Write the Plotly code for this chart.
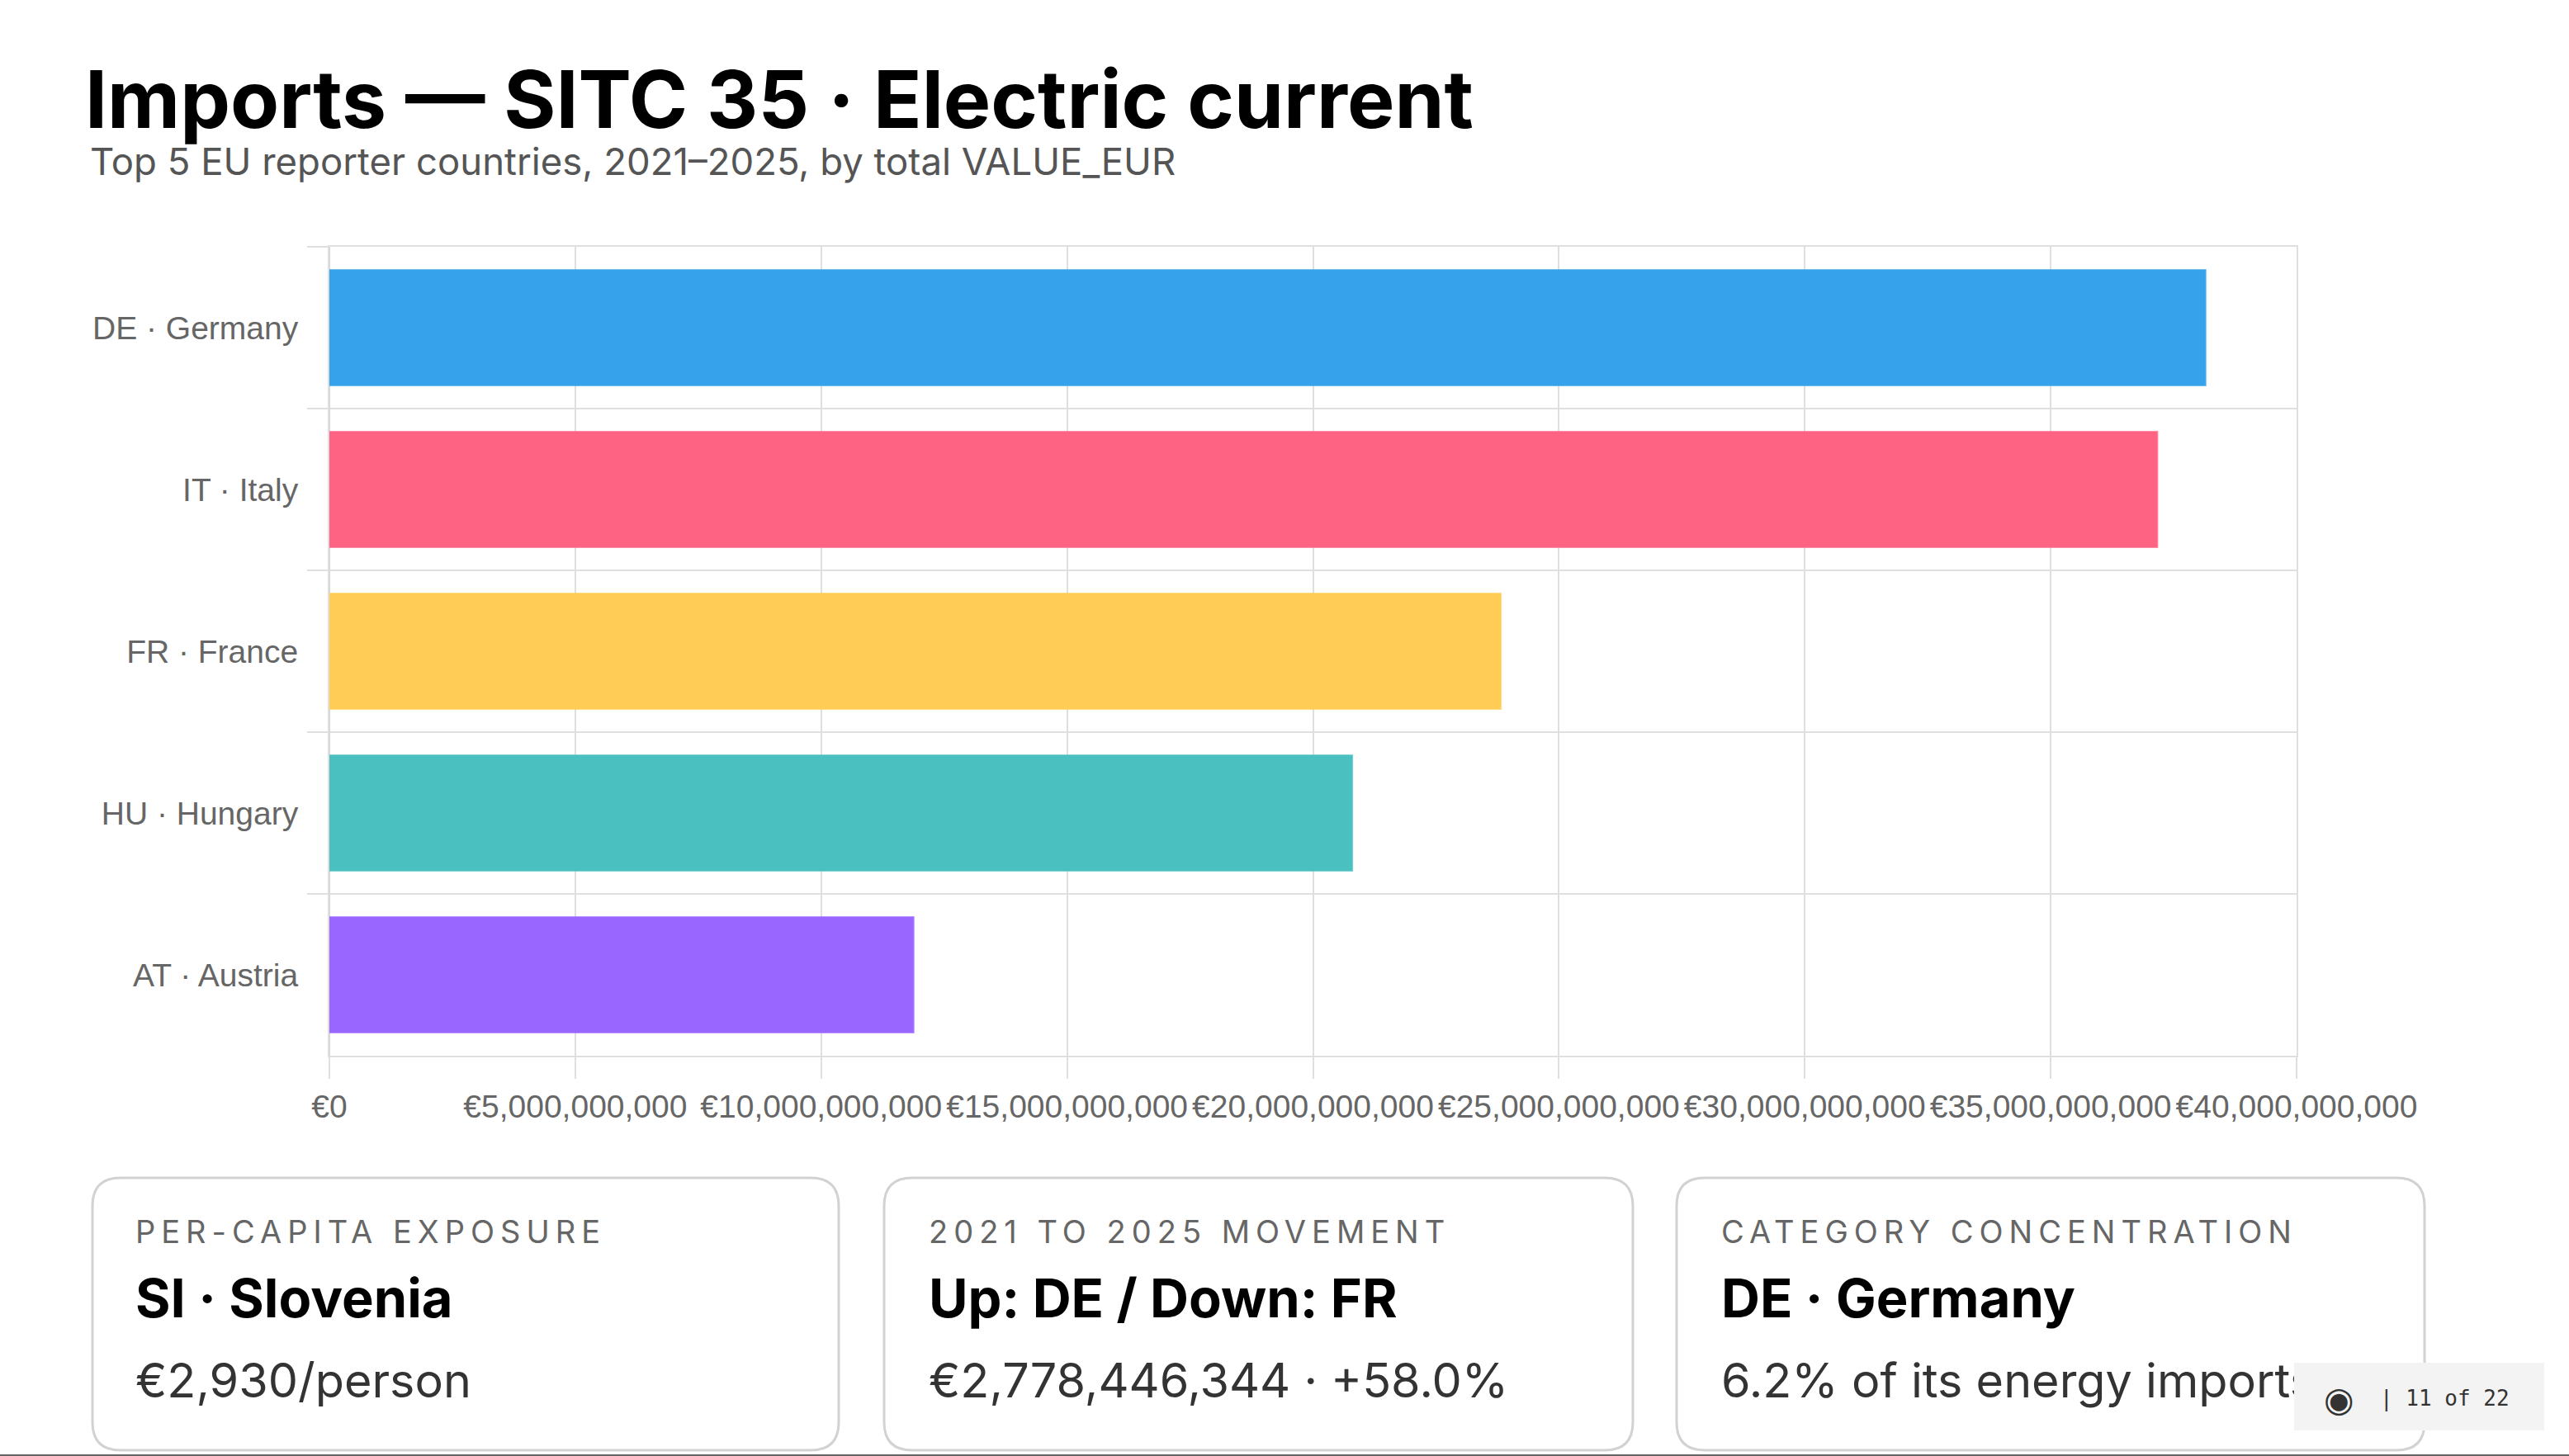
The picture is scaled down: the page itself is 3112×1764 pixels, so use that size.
import plotly.graph_objects as go

countries = ["DE · Germany", "IT · Italy", "FR · France", "HU · Hungary", "AT · Austria"]
values_eur = [38.15e9, 37.17e9, 23.82e9, 20.8e9, 11.88e9]
bar_colors = ["#36A2EB", "#FF6384", "#FFCD56", "#4BC0C0", "#9966FF"]
bar_edges = ["rgba(54,162,235,0.7)", "rgba(255,99,132,0.7)", "rgba(255,205,86,0.7)", "rgba(75,192,192,0.7)", "rgba(153,102,255,0.7)"]
x_ticks = [0, 5e9, 10e9, 15e9, 20e9, 25e9, 30e9, 35e9, 40e9]
x_tick_labels = ["€0", "€5,000,000,000", "€10,000,000,000", "€15,000,000,000", "€20,000,000,000",
                 "€25,000,000,000", "€30,000,000,000", "€35,000,000,000", "€40,000,000,000"]

title_text = "Imports — SITC 35 · Electric current"
subtitle_text = "Top 5 EU reporter countries, 2021–2025, by total VALUE_EUR"
card_labels = ["PER-CAPITA EXPOSURE", "2021 TO 2025 MOVEMENT", "CATEGORY CONCENTRATION"]
card_heads = ["SI · Slovenia", "Up: DE / Down: FR", "DE · Germany"]
card_values = ["€2,930/person", "€2,778,446,344 · +58.0%", "6.2% of its energy imports"]
page_note = "| 11 of 22"

W, H = 3112, 1764
L, R, T, B = 399, 2782, 299, 1279
GRID = "#dfdfdf"
SANS = "Liberation Sans, Arial, sans-serif"
INTER = "Inter, sans-serif"

def px(x):
    return (x - L) / (R - L)

def py(y):
    return (B - y) / (B - T)

def rrect(x0, y0, x1, y1, r):
    a, b, c, d = px(x0), px(x1), py(y0), py(y1)
    ax, ay = r / (R - L), r / (B - T)
    return (f"M{a+ax},{c} L{b-ax},{c} Q{b},{c} {b},{c-ay} L{b},{d+ay} Q{b},{d} {b-ax},{d} "
            f"L{a+ax},{d} Q{a},{d} {a},{d+ay} L{a},{c-ay} Q{a},{c} {a+ax},{c} Z")

fig = go.Figure(go.Bar(
    y=countries, x=values_eur, orientation="h", width=0.715,
    marker=dict(color=bar_colors, line=dict(color=bar_edges, width=2)),
    hoverinfo="skip",
))

shapes, ann = [], []

def text(x, y, s, size, color, family=INTER, weight=400):
    ann.append(dict(xref="paper", yref="paper", x=px(x), y=py(y), text=s, showarrow=False,
                    xanchor="left", yanchor="middle", align="left",
                    font=dict(size=size, color=color, family=family, weight=weight)))

text(101, 120, title_text, 96.5, "#000000", weight=700)
text(107, 195, subtitle_text, 45.5, "#555555")

cards = [(112, 1016), (1071, 1978), (2031, 2937)]
text_lefts = [162, 1123, 2083]
for (x0, x1), tx, a, b, c in zip(cards, text_lefts, card_labels, card_heads, card_values):
    shapes.append(dict(type="path", xref="paper", yref="paper", path=rrect(x0, 1427, x1, 1757, 34),
                       line=dict(color="#d2d2d2", width=3), fillcolor="#ffffff", layer="above"))
    text(tx, 1492, a, 38, "#666666")
    text(tx, 1572, b, 65, "#000000", weight=700)
    text(tx, 1672, c, 57.5, "#333333")

shapes.append(dict(type="rect", xref="paper", yref="paper", x0=px(0), x1=px(W), y0=py(1762), y1=py(1764),
                   line=dict(width=0), fillcolor="#666666", layer="above"))

ann.append(dict(xref="paper", yref="paper", x=px(2779), y=py(1651), text="&nbsp;", showarrow=False,
                xanchor="left", yanchor="top", width=303, height=82,
                bgcolor="#f3f3f3", borderwidth=0, borderpad=0, font=dict(size=20)))
ann.append(dict(xref="paper", yref="paper", x=px(2881), y=py(1694), text=page_note, showarrow=False,
                xanchor="left", yanchor="middle", align="left",
                font=dict(size=26, color="#333333", family="DejaVu Sans Mono, monospace")))
ann.append(dict(xref="paper", yref="paper", x=px(2833), y=py(1695), text="◉", showarrow=False,
                xanchor="center", yanchor="middle",
                font=dict(size=42, color="#333333", family="DejaVu Sans")))

fig.update_layout(
    width=W, height=H, margin=dict(l=L, r=W - R, t=T, b=H - B, pad=0),
    paper_bgcolor="#ffffff", plot_bgcolor="#ffffff", showlegend=False,
    shapes=shapes, annotations=ann,
    font=dict(family=SANS, color="#666666"),
)
fig.update_xaxes(
    range=[0, 40e9], tickvals=x_ticks, ticktext=x_tick_labels, tickangle=0,
    tickfont=dict(size=39, color="#666666", family=SANS),
    showgrid=True, gridcolor=GRID, gridwidth=2, zeroline=True, zerolinecolor="#d4d4d4", zerolinewidth=2,
    ticks="outside", ticklen=26, tickwidth=2, tickcolor=GRID,
    showline=True, linecolor=GRID, linewidth=2, mirror=True, automargin=False,
)
fig.update_yaxes(
    type="category", categoryorder="array", categoryarray=countries, range=[4.5, -0.5],
    tickson="boundaries", ticklabelstandoff=28, tickfont=dict(size=39, color="#666666", family=SANS),
    showgrid=True, gridcolor=GRID, gridwidth=2,
    ticks="outside", ticklen=25, tickwidth=2, tickcolor=GRID,
    showline=True, linecolor=GRID, linewidth=2, mirror=True, automargin=False,
)

post = """
document.documentElement.style.overflow='hidden';
document.body.style.margin='0';
document.body.style.overflow='hidden';
function applySpacing(){
  document.querySelectorAll('.annotation-text').forEach(function(t){
    var s=t.textContent;
    if(s==='PER-CAPITA EXPOSURE'||s==='2021 TO 2025 MOVEMENT'||s==='CATEGORY CONCENTRATION') t.style.letterSpacing='7px';
  });
}
applySpacing(); setTimeout(applySpacing,0); setTimeout(applySpacing,300);
"""
fig.write_html("out.html", post_script=post, config=dict(displayModeBar=False))
